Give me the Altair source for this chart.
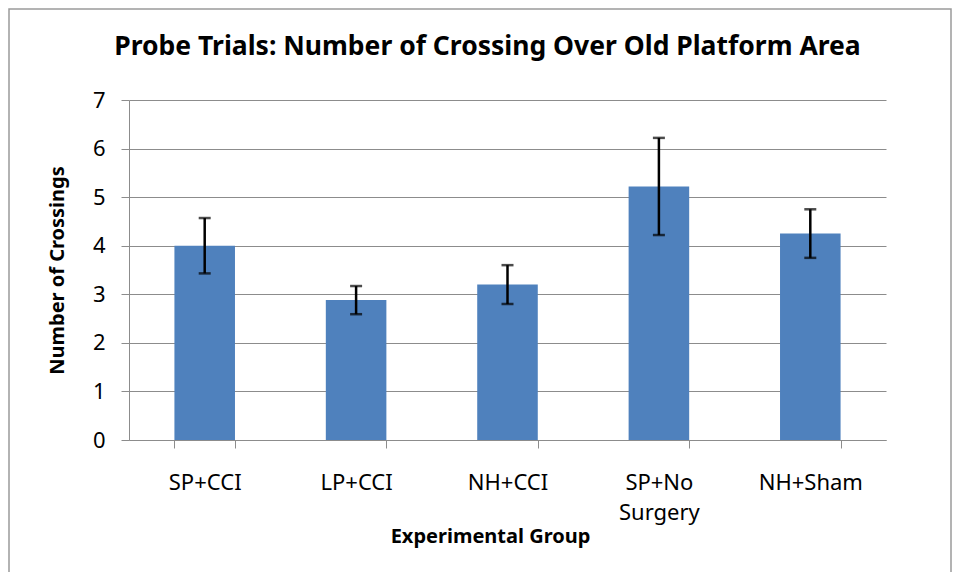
import altair as alt
import pandas as pd

groups = ["SP+CCI", "LP+CCI", "NH+CCI", "SP+No Surgery", "NH+Sham"]
means = [4.0, 2.88, 3.2, 5.22, 4.25]
errors = [0.57, 0.29, 0.40, 1.0, 0.5]
y_ticks = [0, 1, 2, 3, 4, 5, 6, 7]

df = pd.DataFrame({"group": groups, "mean": means, "err": errors})
df["lo"] = df["mean"] - df["err"]
df["hi"] = df["mean"] + df["err"]

FONT = "Noto Sans"
GREY = "#8c8c8c"

xscale = alt.Scale(domain=groups, paddingInner=0.6, paddingOuter=0.3)
yscale = alt.Scale(domain=[0, 7], nice=False)

x_enc = alt.X(
    "group:N", sort=groups, scale=xscale, title="Experimental Group",
    axis=alt.Axis(
        labelAngle=0, tickBand="extent", tickSize=8, tickColor=GREY, domainColor=GREY,
        labelFontSize=22, labelFont=FONT, labelColor="black", labelPadding=24,
        labelExpr="split(datum.label, ' ')", labelLineHeight=30,
        titleFont=FONT, titleFontSize=20, titleFontWeight="bold", titleColor="black",
        titleX=361, titleY=102, titleBaseline="alphabetic",
    ),
)
y_enc = alt.Y(
    "mean:Q", scale=yscale, title="Number of Crossings",
    axis=alt.Axis(
        values=y_ticks, format="d", grid=True, gridColor=GREY, gridWidth=1,
        domainColor=GREY, tickColor=GREY, tickSize=8,
        labelFontSize=22, labelFont=FONT, labelColor="black", labelPadding=16,
        titleFont=FONT, titleFontSize=20, titleFontWeight="bold", titleColor="black",
        titleX=-62, titleY=170,
    ),
)

base = alt.Chart(df)
bars = base.mark_bar(color="#4F81BD").encode(x=x_enc, y=y_enc)
whisk = base.mark_rule(color="black", strokeWidth=2.5).encode(
    x=alt.X("group:N", sort=groups, scale=xscale), y=alt.Y("lo:Q", scale=yscale), y2="hi:Q"
)
cap_hi = base.mark_tick(color="black", size=12, thickness=2.5, orient="horizontal").encode(
    x=alt.X("group:N", sort=groups, scale=xscale), y=alt.Y("hi:Q", scale=yscale)
)
cap_lo = base.mark_tick(color="black", size=12, thickness=2.5, orient="horizontal").encode(
    x=alt.X("group:N", sort=groups, scale=xscale), y=alt.Y("lo:Q", scale=yscale)
)
frame = alt.Chart(alt.Data(values=[{"a": 1}])).mark_rect(
    fill=None, stroke="#9a9a9a", strokeWidth=1.5
).encode(x=alt.value(-120), x2=alt.value(822), y=alt.value(-91), y2=alt.value(475))

chart = alt.layer(frame, bars, whisk, cap_hi, cap_lo).properties(
    width=757, height=340,
    title=alt.TitleParams(
        "Probe Trials: Number of Crossing Over Old Platform Area",
        font=FONT, fontSize=26.5, fontWeight="bold", color="black",
        anchor="middle", dx=-20, offset=-73, baseline="alphabetic",
    ),
    autosize=alt.AutoSizeParams(type="none"),
    padding={"left": 121, "top": 92, "right": 67, "bottom": 132},
    background="white",
).configure_view(stroke=None)

chart.save("out.html", embed_options={"renderer": "svg", "actions": False})
